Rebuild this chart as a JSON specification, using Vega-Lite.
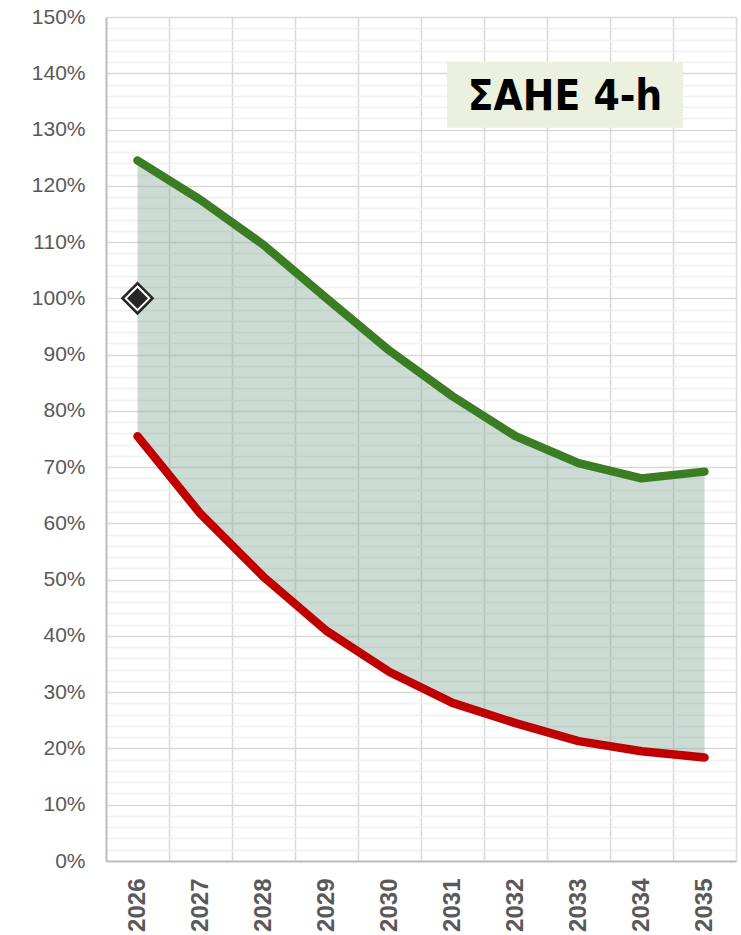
{
  "$schema": "https://vega.github.io/schema/vega-lite/v6.json",
  "width": 630,
  "height": 844,
  "autosize": "none",
  "padding": {"left": 106, "top": 17, "right": 5, "bottom": 74},
  "background": "white",
  "config": {"view": {"stroke": null}},
  "data": {
    "values": [
      {"year": "2026", "high": 1.245, "low": 0.755},
      {"year": "2027", "high": 1.175, "low": 0.617},
      {"year": "2028", "high": 1.095, "low": 0.505},
      {"year": "2029", "high": 1.000, "low": 0.409},
      {"year": "2030", "high": 0.907, "low": 0.336},
      {"year": "2031", "high": 0.826, "low": 0.281},
      {"year": "2032", "high": 0.755, "low": 0.245},
      {"year": "2033", "high": 0.707, "low": 0.213},
      {"year": "2034", "high": 0.680, "low": 0.195},
      {"year": "2035", "high": 0.692, "low": 0.184}
    ]
  },
  "encoding": {
    "x": {
      "field": "year",
      "type": "ordinal",
      "scale": {"type": "band", "paddingInner": 0, "paddingOuter": 0},
      "axis": {
        "title": null,
        "tickBand": "extent",
        "grid": true,
        "gridColor": "#d9d9d9",
        "gridWidth": 1.5,
        "ticks": false,
        "domainColor": "#bfbfbf",
        "domainWidth": 2,
        "labelAngle": -90,
        "labelFont": "Liberation Sans",
        "labelFontWeight": "bold",
        "labelFontSize": 24,
        "labelColor": "#595959",
        "labelPadding": 17
      }
    }
  },
  "layer": [
    {
      "mark": {"type": "area", "color": "#7fa893", "opacity": 0.4},
      "encoding": {
        "y": {
          "field": "low",
          "type": "quantitative",
          "scale": {"domain": [0, 1.5], "nice": false, "zero": true},
          "axis": {
            "title": null,
            "values": [0, 0.1, 0.2, 0.3, 0.4, 0.5, 0.6, 0.7, 0.8, 0.9, 1.0, 1.1, 1.2, 1.3, 1.4, 1.5],
            "format": ".0%",
            "grid": true,
            "gridColor": "#d9d9d9",
            "gridWidth": 1.5,
            "ticks": false,
            "domainColor": "#bfbfbf",
            "domainWidth": 2,
            "labelFont": "Liberation Sans",
            "labelFontSize": 21,
            "labelColor": "#595959",
            "labelPadding": 21
          }
        },
        "y2": {"field": "high"}
      }
    },
    {
      "mark": {"type": "line", "color": "#3b7d23", "strokeWidth": 8.5, "strokeCap": "round", "strokeJoin": "round"},
      "encoding": {
        "y": {
          "field": "high",
          "type": "quantitative",
          "axis": {
            "title": null,
            "orient": "right",
            "values": [0.02, 0.04, 0.06, 0.08, 0.12, 0.14, 0.16, 0.18, 0.22, 0.24, 0.26, 0.28, 0.32, 0.34, 0.36, 0.38, 0.42, 0.44, 0.46, 0.48, 0.52, 0.54, 0.56, 0.58, 0.62, 0.64, 0.66, 0.68, 0.72, 0.74, 0.76, 0.78, 0.82, 0.84, 0.86, 0.88, 0.92, 0.94, 0.96, 0.98, 1.02, 1.04, 1.06, 1.08, 1.12, 1.14, 1.16, 1.18, 1.22, 1.24, 1.26, 1.28, 1.32, 1.34, 1.36, 1.38, 1.42, 1.44, 1.46, 1.48],
            "grid": true,
            "gridColor": "#f0f0f0",
            "gridWidth": 1.5,
            "labels": false,
            "ticks": false,
            "domain": false
          }
        }
      }
    },
    {
      "mark": {"type": "line", "color": "#c00000", "strokeWidth": 8.5, "strokeCap": "round", "strokeJoin": "round"},
      "encoding": {
        "y": {"field": "low", "type": "quantitative", "axis": null}
      }
    },
    {
      "data": {"values": [{"year": "2026", "ref": 1.0}]},
      "mark": {"type": "point", "shape": "diamond", "filled": true, "fill": "#262626", "stroke": "#262626", "strokeWidth": 1.5, "size": 1000, "opacity": 1},
      "encoding": {
        "y": {"field": "ref", "type": "quantitative", "axis": null}
      }
    },
    {
      "data": {"values": [{"year": "2026", "ref": 1.0}]},
      "mark": {"type": "point", "shape": "diamond", "filled": true, "fill": "#262626", "stroke": "white", "strokeWidth": 2, "size": 560, "opacity": 1},
      "encoding": {
        "y": {"field": "ref", "type": "quantitative", "axis": null}
      }
    },
    {
      "data": {"values": [{"year": "2033", "pos": 1.362, "label": "ΣΑΗΕ 4-h"}]},
      "mark": {"type": "point", "shape": "M-1,-0.2797L1,-0.2797L1,0.2797L-1,0.2797Z", "filled": true, "fill": "#ebf1de", "stroke": null, "size": 55696, "opacity": 1, "xOffset": -13.5},
      "encoding": {
        "y": {"field": "pos", "type": "quantitative", "axis": null}
      }
    },
    {
      "data": {"values": [{"year": "2033", "pos": 1.357, "label": "ΣΑΗΕ 4-h"}]},
      "mark": {"type": "text", "font": "DejaVu Sans Condensed", "fontWeight": "bold", "fontSize": 42, "color": "black", "align": "center", "baseline": "middle", "dx": -13.5},
      "encoding": {
        "y": {"field": "pos", "type": "quantitative", "axis": null},
        "text": {"field": "label"}
      }
    }
  ],
  "resolve": {"axis": {"y": "independent"}}
}
